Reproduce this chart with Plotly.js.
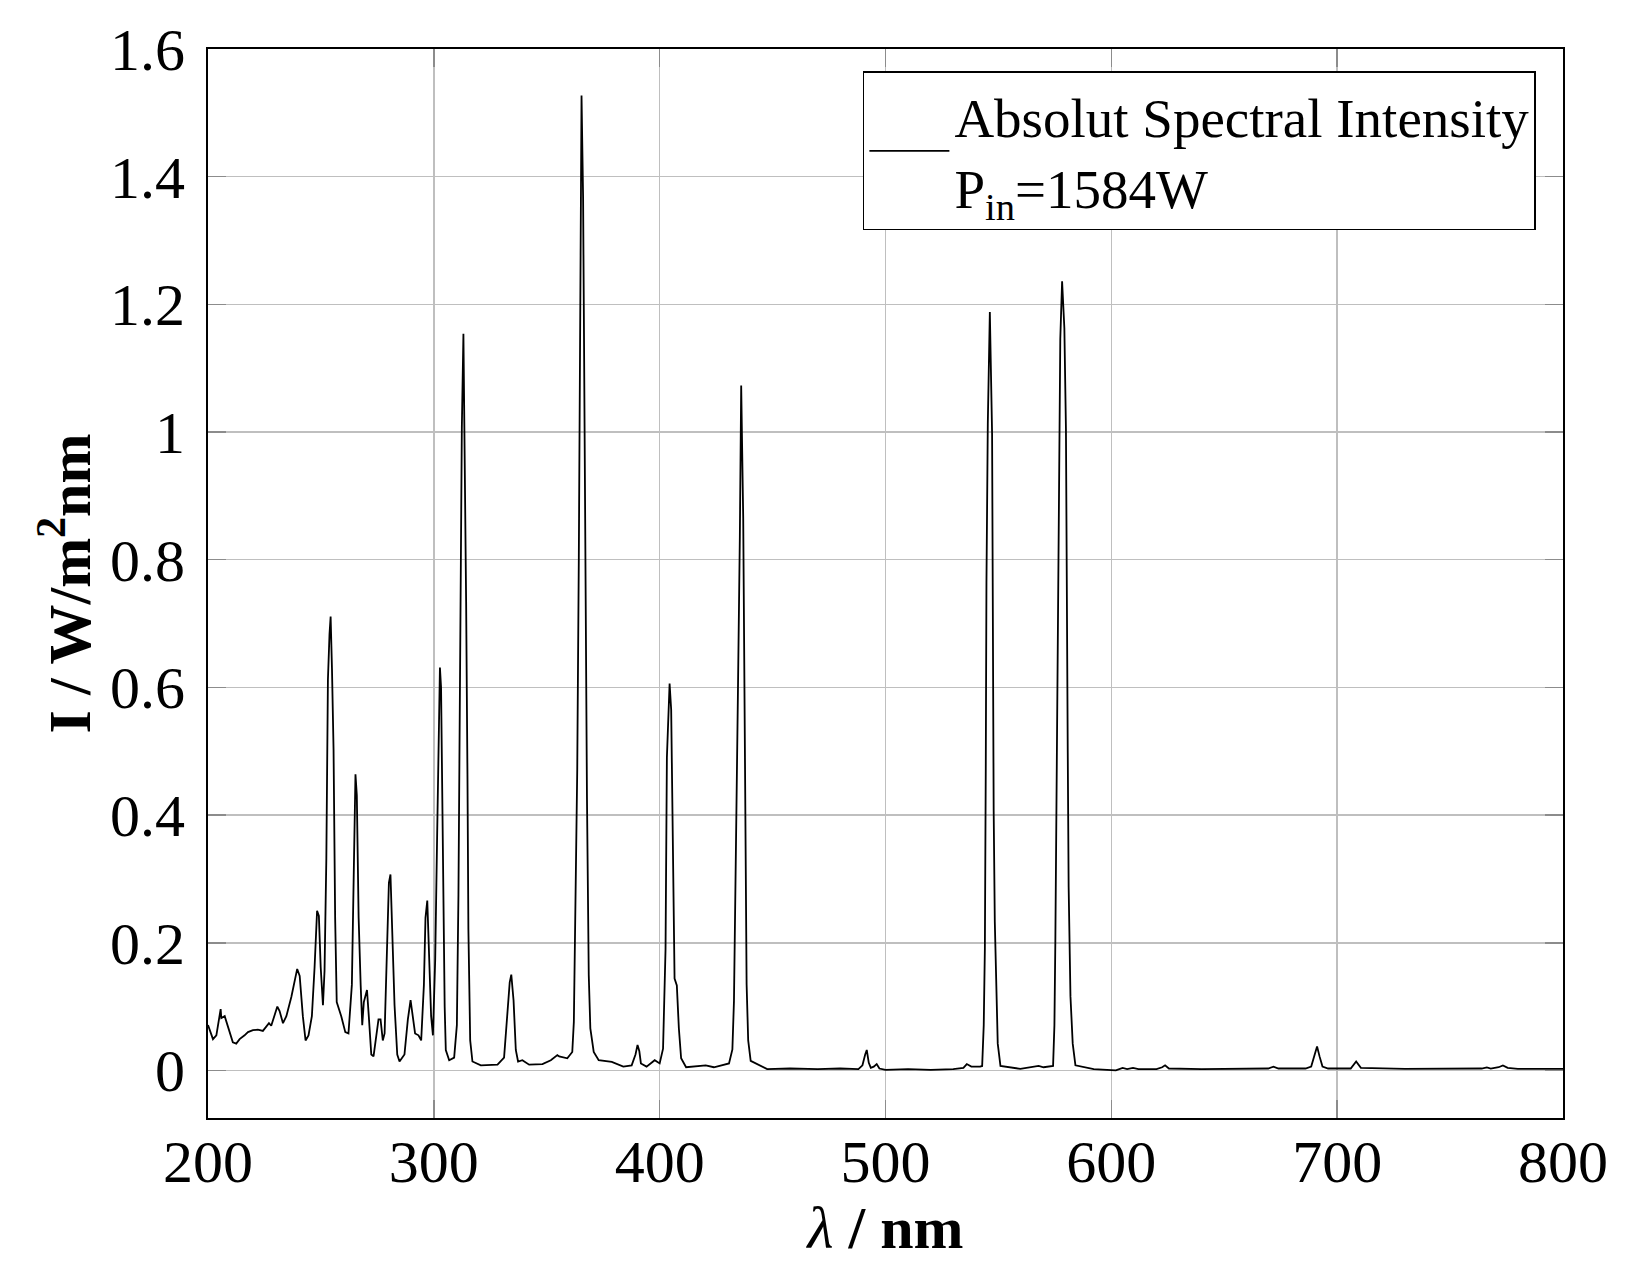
<!DOCTYPE html>
<html>
<head>
<meta charset="utf-8">
<script src="https://cdn.plot.ly/plotly-3.0.1.min.js"></script>
<style>
  body { margin: 0; background: #fff; }
  #graph { width: 1630px; height: 1279px; }
</style>
</head>
<body>
<div id="graph"></div>
<script>
// wavelength (nm) and intensity (W/m2nm)
let wavelength = [
  200.0, 202.2, 203.7, 205.2, 205.6, 205.9, 207.4, 208.8, 211.0, 212.5,
  214.0, 216.2, 217.7, 219.9, 222.1, 224.3, 227.0, 228.0, 230.7, 231.7,
  233.2, 234.7, 236.9, 239.5, 240.6, 242.0, 243.2, 244.5, 246.0, 247.2,
  248.3, 249.1, 249.9, 250.9, 251.6, 252.4, 253.1, 253.8, 254.3, 254.9,
  255.6, 256.3, 257.0, 259.0, 260.8, 262.2, 263.7, 264.6, 265.3, 265.9,
  266.7, 267.6, 268.3, 269.0, 270.4, 271.2, 272.3, 273.3, 274.5, 275.5,
  276.4, 277.4, 278.2, 279.4, 280.1, 280.8, 281.6, 282.6, 283.8, 284.8,
  287.0, 288.5, 289.7, 290.7, 291.7, 293.2, 294.4, 295.6, 296.3, 297.1,
  297.8, 298.8, 299.6, 300.6, 301.5, 302.2, 302.7, 303.2, 303.8, 304.3,
  304.8, 305.3, 306.8, 309.0, 310.2, 310.9, 311.4, 311.9, 312.4, 313.1,
  313.7, 314.3, 314.9, 315.3, 316.1, 317.1, 320.8, 328.2, 331.1, 332.6,
  333.6, 334.3, 335.3, 336.3, 337.3, 339.2, 342.2, 348.1, 351.8, 354.7,
  355.5, 359.1, 361.3, 362.0, 362.8, 363.5, 364.2, 364.7, 365.4, 366.1,
  366.7, 367.3, 367.8, 368.6, 369.3, 370.8, 373.0, 378.8, 383.9, 387.6,
  389.3, 390.2, 391.0, 391.7, 394.2, 397.8, 400.0, 401.5, 402.6, 403.2,
  404.4, 405.1, 405.8, 406.6, 407.6, 408.5, 409.5, 411.7, 420.4, 424.0,
  430.7, 432.2, 432.9, 433.6, 434.6, 435.5, 436.1, 437.0, 437.6, 438.1,
  438.5, 439.2, 440.3, 447.6, 457.7, 470.0, 479.9, 488.0, 489.8, 491.0,
  491.7, 492.6, 493.5, 494.8, 496.1, 497.3, 500.0, 510.0, 520.0, 530.0,
  534.5, 536.0, 538.0, 541.9, 542.8, 543.5, 544.0, 544.4, 544.7, 545.3,
  546.2, 547.2, 547.5, 547.9, 548.4, 549.0, 549.7, 550.9, 559.7, 567.8,
  570.0, 574.2, 574.8, 575.2, 575.7, 576.0, 576.4, 577.0, 577.4, 578.2,
  579.2, 579.9, 580.4, 580.7, 581.1, 581.9, 582.9, 584.1, 592.2, 600.5,
  602.0, 605.0, 607.0, 609.6, 612.0, 620.0, 622.5, 623.8, 625.5, 640.0,
  660.0, 669.5, 671.8, 674.0, 686.0, 688.5, 689.8, 691.1, 692.2, 693.5,
  696.0, 706.0, 708.4, 710.5, 730.0, 750.0, 764.0, 766.3, 768.0, 771.5,
  773.4, 775.5, 780.0, 800.0
];
let intensity = [
  0.071, 0.049, 0.055, 0.093, 0.096, 0.082, 0.085, 0.069, 0.044, 0.042,
  0.049, 0.055, 0.060, 0.063, 0.064, 0.062, 0.074, 0.070, 0.100, 0.093,
  0.074, 0.085, 0.115, 0.159, 0.148, 0.085, 0.047, 0.055, 0.085, 0.162,
  0.250, 0.242, 0.162, 0.102, 0.156, 0.332, 0.612, 0.683, 0.711, 0.629,
  0.502, 0.239, 0.107, 0.085, 0.060, 0.058, 0.134, 0.321, 0.464, 0.431,
  0.239, 0.134, 0.071, 0.107, 0.126, 0.085, 0.025, 0.022, 0.052, 0.080,
  0.080, 0.047, 0.058, 0.211, 0.294, 0.307, 0.228, 0.102, 0.025, 0.014,
  0.025, 0.080, 0.110, 0.085, 0.058, 0.055, 0.047, 0.134, 0.239, 0.266,
  0.195, 0.085, 0.055, 0.173, 0.376, 0.574, 0.631, 0.600, 0.400, 0.221,
  0.100, 0.032, 0.016, 0.020, 0.071, 0.276, 0.513, 0.766, 1.007, 1.154,
  0.979, 0.734, 0.458, 0.221, 0.047, 0.014, 0.008, 0.009, 0.020, 0.087,
  0.138, 0.150, 0.110, 0.032, 0.014, 0.016, 0.009, 0.010, 0.016, 0.024,
  0.022, 0.019, 0.029, 0.076, 0.263, 0.471, 0.804, 1.116, 1.527, 1.366,
  0.991, 0.669, 0.430, 0.149, 0.066, 0.029, 0.016, 0.0135, 0.006, 0.008,
  0.025, 0.040, 0.030, 0.011, 0.006, 0.016, 0.011, 0.034, 0.190, 0.490,
  0.606, 0.565, 0.325, 0.144, 0.133, 0.066, 0.019, 0.005, 0.008, 0.005,
  0.011, 0.033, 0.109, 0.347, 0.577, 0.836, 1.073, 0.865, 0.573, 0.321,
  0.135, 0.047, 0.015, 0.002, 0.003, 0.002, 0.003, 0.002, 0.008, 0.025,
  0.032, 0.012, 0.004, 0.006, 0.010, 0.003, 0.001, 0.002, 0.001, 0.002,
  0.004, 0.010, 0.006, 0.006, 0.007, 0.071, 0.191, 0.473, 0.764, 1.013,
  1.188, 0.997, 0.706, 0.407, 0.233, 0.120, 0.042, 0.007, 0.0025, 0.007,
  0.005, 0.007, 0.071, 0.200, 0.407, 0.640, 0.822, 0.988, 1.146, 1.236,
  1.163, 1.005, 0.772, 0.498, 0.287, 0.116, 0.042, 0.008, 0.002, 0.001,
  0.000, 0.004, 0.002, 0.004, 0.002, 0.002, 0.005, 0.008, 0.003, 0.002,
  0.002, 0.003, 0.006, 0.003, 0.003, 0.006, 0.022, 0.0376, 0.022, 0.006,
  0.003, 0.003, 0.014, 0.004, 0.0026, 0.0026, 0.003, 0.0047, 0.003, 0.005,
  0.0078, 0.004, 0.0026, 0.0026
];

let xTicks = [200, 300, 400, 500, 600, 700, 800];
let yTicks = [0, 0.2, 0.4, 0.6, 0.8, 1, 1.2, 1.4, 1.6];
let yTickText = ['0', '0.2', '0.4', '0.6', '0.8', '1', '1.2', '1.4', '1.6'];

let serif = 'Liberation Serif, DejaVu Serif, serif';

let data = [{
    x: wavelength,
    y: intensity,
    type: 'scatter',
    mode: 'lines',
    name: 'Absolut Spectral Intensity<br>P<sub>in</sub>=1584W',
    line: {color: 'black', width: 1.8}
}];

let axisCommon = {
    showgrid: true,
    gridcolor: '#bfbfbf',
    gridwidth: 1.5,
    zeroline: false,
    showline: true,
    linecolor: 'black',
    linewidth: 2,
    mirror: 'ticks',
    ticks: 'inside',
    ticklen: 18,
    tickwidth: 1.5,
    tickcolor: '#8c8c8c',
    tickfont: {family: serif, size: 60, color: 'black'}
};

let layout = {
    width: 1630,
    height: 1279,
    margin: {l: 208, r: 67, t: 49, b: 161},
    paper_bgcolor: 'white',
    plot_bgcolor: 'white',
    showlegend: true,
    xaxis: Object.assign({}, axisCommon, {
        range: [200, 800],
        tickvals: xTicks,
        ticklabelstandoff: -10,
        title: {
            text: '<i>λ</i><b> / nm</b>',
            font: {family: serif, size: 60, color: 'black'},
            standoff: 2
        }
    }),
    yaxis: Object.assign({}, axisCommon, {
        range: [-0.0745, 1.6],
        tickvals: yTicks,
        ticktext: yTickText,
        ticklabelstandoff: 9,
        title: {
            text: '<b>I / W/m<sup>2</sup>nm</b>',
            font: {family: serif, size: 60, color: 'black'},
            standoff: 0
        }
    }),
    legend: {
        x: 0.98,
        xanchor: 'right',
        y: 0.979,
        yanchor: 'top',
        bgcolor: 'white',
        bordercolor: 'black',
        borderwidth: 1.5,
        itemwidth: 80,
        valign: 'middle',
        font: {family: serif, size: 55, color: 'black'}
    }
};

Plotly.newPlot('graph', data, layout, {displayModeBar: false, staticPlot: true});
</script>
</body>
</html>
